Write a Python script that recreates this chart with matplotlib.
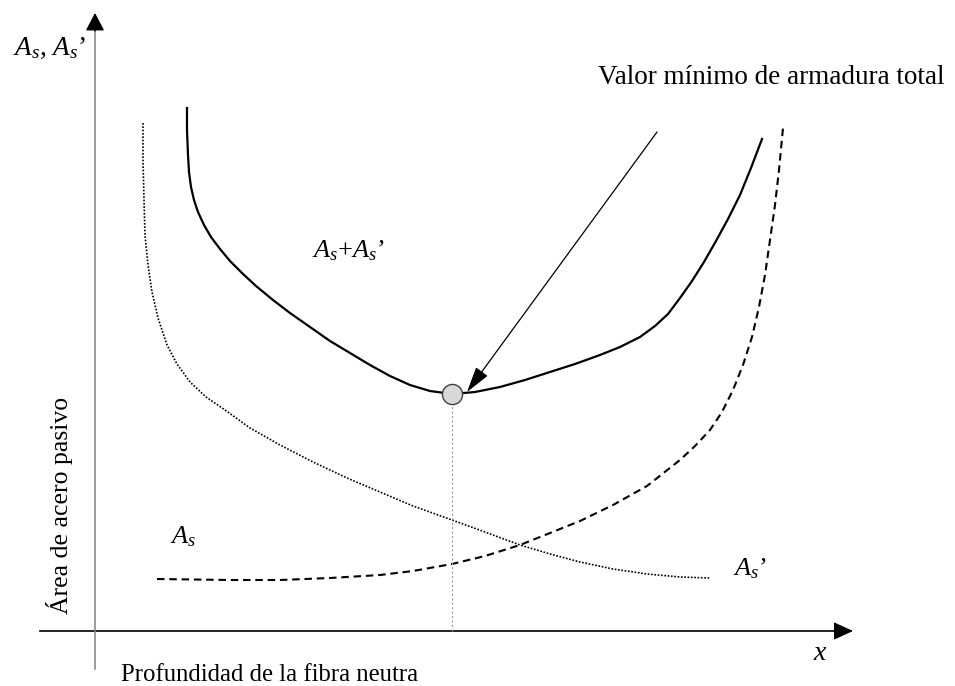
import matplotlib
matplotlib.use("Agg")
import matplotlib.pyplot as plt
import numpy as np

plt.rcParams["font.family"] = ["Liberation Serif", "DejaVu Serif"]
plt.rcParams["mathtext.fontset"] = "custom"
plt.rcParams["mathtext.rm"] = "Liberation Serif"
plt.rcParams["mathtext.it"] = "Liberation Serif:italic"

# schematic curves (arbitrary units, origin at the axes crossing)
total_x = [0.92, 0.92, 0.93, 0.94, 0.96, 0.99, 1.03, 1.09, 1.16, 1.25, 1.35, 1.47,
           1.61, 1.78, 1.95, 2.15, 2.35, 2.55, 2.75, 2.95, 3.15, 3.35, 3.57, 3.80,
           4.05, 4.30, 4.55, 4.80, 5.05, 5.25, 5.45, 5.60, 5.73, 5.85, 5.97, 6.09,
           6.21, 6.33, 6.45, 6.56, 6.67]
total_y = [5.23, 5.01, 4.76, 4.59, 4.44, 4.31, 4.19, 4.06, 3.94, 3.82, 3.70, 3.58,
           3.45, 3.31, 3.18, 3.04, 2.90, 2.78, 2.66, 2.55, 2.46, 2.40, 2.37, 2.39,
           2.44, 2.51, 2.59, 2.67, 2.76, 2.84, 2.94, 3.05, 3.17, 3.33, 3.50, 3.69,
           3.90, 4.12, 4.36, 4.63, 4.92]

as_x = [0.48, 0.48, 0.49, 0.50, 0.53, 0.57, 0.63, 0.72, 0.82, 0.95, 1.11, 1.30,
        1.55, 1.85, 2.18, 2.52, 2.85, 3.18, 3.57, 3.90, 4.25, 4.55, 4.85, 5.18,
        5.52, 5.85, 6.15]
as_y = [5.08, 4.71, 4.31, 3.96, 3.66, 3.39, 3.13, 2.86, 2.67, 2.49, 2.34, 2.21,
        2.03, 1.86, 1.69, 1.53, 1.39, 1.25, 1.11, 0.99, 0.86, 0.77, 0.69, 0.62,
        0.57, 0.54, 0.53]

asp_x = [0.62, 1.35, 1.85, 2.35, 2.85, 3.18, 3.57, 3.90, 4.25, 4.55, 4.85, 5.18,
         5.52, 5.85, 6.00, 6.15, 6.27, 6.38, 6.48, 6.57, 6.64, 6.70, 6.75, 6.80,
         6.84, 6.88]
asp_y = [0.52, 0.51, 0.51, 0.53, 0.56, 0.60, 0.67, 0.75, 0.86, 0.98, 1.10, 1.26,
         1.45, 1.71, 1.85, 2.01, 2.19, 2.41, 2.66, 2.94, 3.24, 3.56, 3.91, 4.26,
         4.61, 5.03]

fig = plt.figure(figsize=(9.55, 6.86), dpi=100)
ax = fig.add_axes([0, 0, 1, 1])
ax.set_xlim(-0.95, 8.60)
ax.set_ylim(-0.55, 6.31)
ax.axis("off")

# axes with arrow heads
ax.plot([-0.55, 7.45], [0, 0], color="black", lw=1.2)
ax.annotate("", xy=(7.58, 0), xytext=(7.40, 0),
            arrowprops=dict(arrowstyle="-|>,head_length=1.2,head_width=0.55",
                            color="black", lw=1, shrinkA=0, shrinkB=0, mutation_scale=10))
ax.plot([0, 0], [-0.38, 6.05], color="#808080", lw=1.1)
ax.annotate("", xy=(0, 6.18), xytext=(0, 6.00),
            arrowprops=dict(arrowstyle="-|>,head_length=1.1,head_width=0.58",
                            color="black", lw=1, shrinkA=0, shrinkB=0, mutation_scale=10))

ax.plot(total_x, total_y, color="black", lw=1.6, solid_joinstyle="round")
ax.plot(as_x, as_y, color="black", lw=1.2, dashes=(1, 1))
ax.plot(asp_x, asp_y, color="black", lw=1.5, dashes=(3.6, 2.3))

i_min = int(np.argmin(total_y))
xm, ym = total_x[i_min], total_y[i_min]
ax.plot([xm, xm], [0, ym - 0.1], color="#999999", lw=0.8, dashes=(2, 2))
ax.plot(xm, ym, "o", ms=14.5, mfc="#d9d9d9", mec="#404040", mew=1, zorder=5)

ax.annotate("", xy=(xm + 0.15, ym + 0.02), xytext=(5.62, 4.99),
            arrowprops=dict(arrowstyle="-|>,head_length=1.6,head_width=0.45",
                            color="black", lw=0.9, shrinkA=0, shrinkB=0, mutation_scale=10))

ax.text(-0.82, 5.76, "$A_s$, $A_s$’", fontsize=19.5, va="baseline")
ax.text(5.03, 5.47, "Valor mínimo de armadura total", fontsize=19.5, va="baseline")
ax.text(2.17, 3.74, "$A_s$+$A_s$’", fontsize=19, va="baseline")
ax.text(0.75, 0.88, "$A_s$", fontsize=19, va="baseline")
ax.text(6.38, 0.56, "$A_s$’", fontsize=19, va="baseline")
ax.text(7.18, -0.29, "$x$", fontsize=20, va="baseline")
ax.text(0.26, -0.50, "Profundidad de la fibra neutra", fontsize=17.8, va="baseline")
ax.text(-0.27, 1.26, "Área de acero pasivo", fontsize=18.5, rotation=90,
        rotation_mode="anchor", ha="center", va="baseline")

fig.savefig("out.png", dpi=100)
